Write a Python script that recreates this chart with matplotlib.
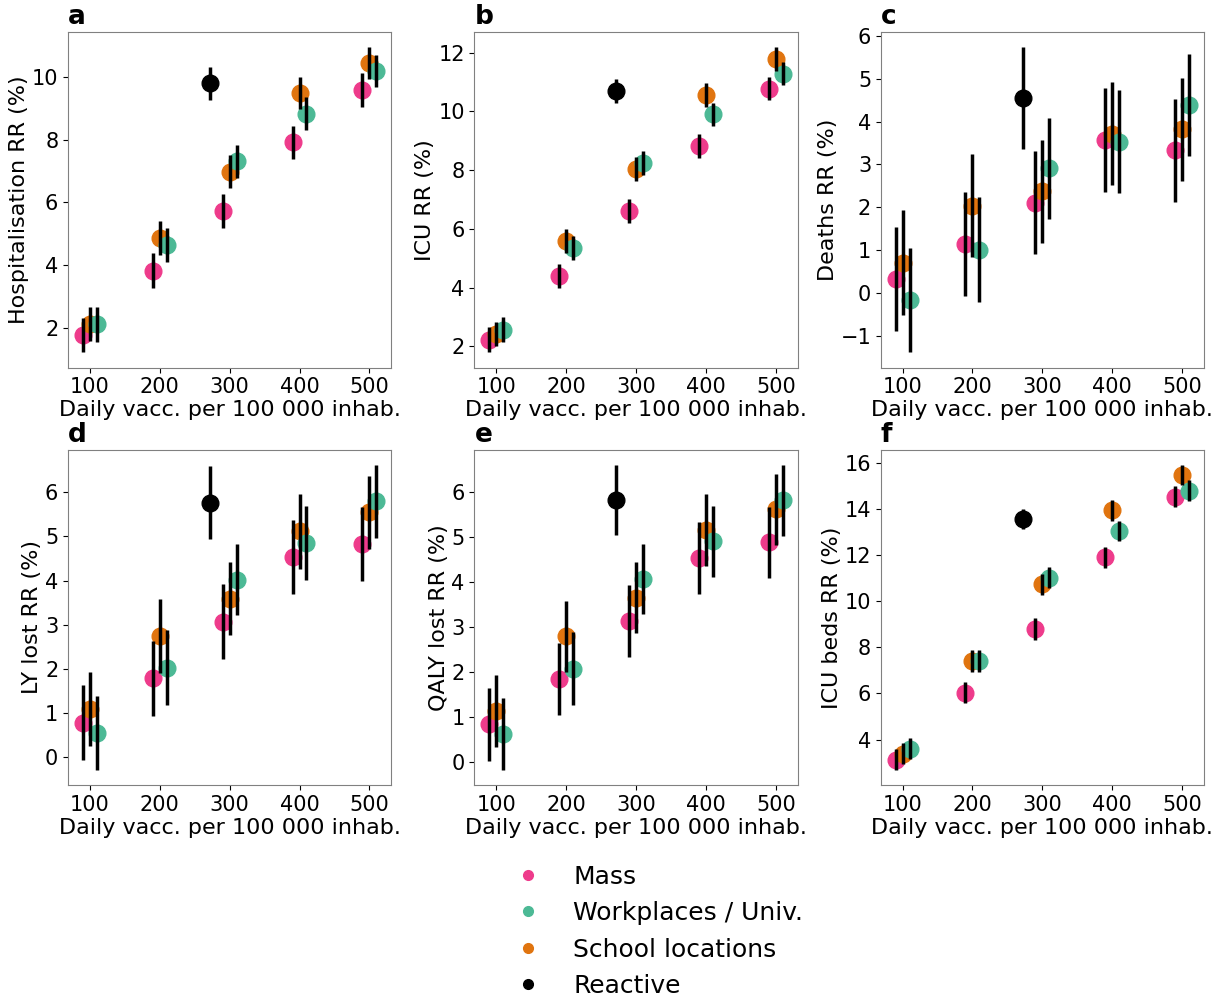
import matplotlib
matplotlib.use("Agg")
import matplotlib.pyplot as plt
from matplotlib.lines import Line2D
from matplotlib.ticker import MultipleLocator

# x positions (daily vaccinations per 100 000 inhabitants)
doses = [100, 200, 300, 400, 500]
reactive_x = 272
offsets = {'Mass': -10, 'School locations': 0, 'Workplaces / Univ.': 10}

colors = {
    'Mass': '#ee3b8b',
    'Workplaces / Univ.': '#4cb995',
    'School locations': '#e0740f',
    'Reactive': '#000000',
}

# panel a - hospitalisation RR (%)
hosp_mass = [1.78, 3.83, 5.73, 7.91, 9.58]
hosp_mass_err = [0.55, 0.56, 0.55, 0.52, 0.53]
hosp_school = [2.13, 4.86, 6.98, 9.47, 10.43]
hosp_school_err = [0.54, 0.54, 0.53, 0.51, 0.51]
hosp_work = [2.12, 4.64, 7.31, 8.83, 10.18]
hosp_work_err = [0.55, 0.54, 0.53, 0.52, 0.52]
hosp_reactive = 9.79
hosp_reactive_err = 0.53

# panel b - ICU RR (%)
icu_mass = [2.22, 4.39, 6.61, 8.83, 10.78]
icu_mass_err = [0.43, 0.42, 0.42, 0.40, 0.40]
icu_school = [2.42, 5.58, 8.04, 10.57, 11.79]
icu_school_err = [0.41, 0.40, 0.41, 0.41, 0.40]
icu_work = [2.56, 5.36, 8.24, 9.90, 11.29]
icu_work_err = [0.42, 0.41, 0.40, 0.40, 0.40]
icu_reactive = 10.70
icu_reactive_err = 0.40

# panel c - deaths RR (%)
deaths_mass = [0.33, 1.14, 2.11, 3.57, 3.33]
deaths_mass_err = [1.22, 1.21, 1.20, 1.21, 1.20]
deaths_school = [0.71, 2.04, 2.37, 3.72, 3.82]
deaths_school_err = [1.22, 1.20, 1.20, 1.21, 1.20]
deaths_work = [-0.17, 1.01, 2.91, 3.53, 4.40]
deaths_work_err = [1.22, 1.22, 1.18, 1.20, 1.19]
deaths_reactive = 4.55
deaths_reactive_err = 1.19

# panel d - LY lost RR (%)
ly_mass = [0.78, 1.79, 3.07, 4.53, 4.83]
ly_mass_err = [0.85, 0.85, 0.84, 0.84, 0.83]
ly_school = [1.09, 2.75, 3.59, 5.11, 5.54]
ly_school_err = [0.83, 0.84, 0.82, 0.84, 0.83]
ly_work = [0.55, 2.02, 4.02, 4.85, 5.79]
ly_work_err = [0.84, 0.85, 0.81, 0.83, 0.83]
ly_reactive = 5.76
ly_reactive_err = 0.83

# panel e - QALY lost RR (%)
qaly_mass = [0.83, 1.84, 3.13, 4.54, 4.88]
qaly_mass_err = [0.81, 0.81, 0.80, 0.80, 0.79]
qaly_school = [1.12, 2.79, 3.65, 5.15, 5.61]
qaly_school_err = [0.80, 0.79, 0.79, 0.80, 0.79]
qaly_work = [0.62, 2.07, 4.06, 4.90, 5.81]
qaly_work_err = [0.80, 0.81, 0.78, 0.79, 0.79]
qaly_reactive = 5.81
qaly_reactive_err = 0.78

# panel f - ICU beds RR (%)
beds_mass = [3.13, 6.04, 8.80, 11.91, 14.55]
beds_mass_err = [0.45, 0.47, 0.47, 0.46, 0.45]
beds_school = [3.39, 7.41, 10.74, 13.96, 15.49]
beds_school_err = [0.45, 0.46, 0.45, 0.45, 0.44]
beds_work = [3.61, 7.41, 11.03, 13.06, 14.80]
beds_work_err = [0.47, 0.46, 0.45, 0.45, 0.46]
beds_reactive = 13.57
beds_reactive_err = 0.44

panels = [
    ('a', 'Hospitalisation RR (%)', 2, hosp_mass, hosp_mass_err, hosp_school, hosp_school_err,
     hosp_work, hosp_work_err, hosp_reactive, hosp_reactive_err),
    ('b', 'ICU RR (%)', 2, icu_mass, icu_mass_err, icu_school, icu_school_err,
     icu_work, icu_work_err, icu_reactive, icu_reactive_err),
    ('c', 'Deaths RR (%)', 1, deaths_mass, deaths_mass_err, deaths_school, deaths_school_err,
     deaths_work, deaths_work_err, deaths_reactive, deaths_reactive_err),
    ('d', 'LY lost RR (%)', 1, ly_mass, ly_mass_err, ly_school, ly_school_err,
     ly_work, ly_work_err, ly_reactive, ly_reactive_err),
    ('e', 'QALY lost RR (%)', 1, qaly_mass, qaly_mass_err, qaly_school, qaly_school_err,
     qaly_work, qaly_work_err, qaly_reactive, qaly_reactive_err),
    ('f', 'ICU beds RR (%)', 2, beds_mass, beds_mass_err, beds_school, beds_school_err,
     beds_work, beds_work_err, beds_reactive, beds_reactive_err),
]

fs = 16
ms = 12

fig, axes = plt.subplots(2, 3, figsize=(12.26, 9.99), dpi=100)
fig.subplots_adjust(left=0.0555, right=0.982, top=0.968, bottom=0.214,
                    wspace=0.258, hspace=0.244)

for ax, (letter, ylabel, step, m, me, s, se, w, we, r, re) in zip(axes.flat, panels):
    for name, vals, errs in [('Mass', m, me), ('School locations', s, se),
                             ('Workplaces / Univ.', w, we)]:
        xs = [d + offsets[name] for d in doses]
        ax.plot(xs, vals, 'o', color=colors[name], markersize=ms, zorder=2)
        ax.errorbar(xs, vals, yerr=errs, fmt='none', ecolor='black',
                    elinewidth=2.5, capsize=0, zorder=3)
    ax.errorbar([reactive_x], [r], yerr=[re], fmt='o', color='black',
                markersize=ms, elinewidth=2.5, capsize=0, zorder=3)
    ax.set_xticks(doses)
    ax.yaxis.set_major_locator(MultipleLocator(step))
    ax.set_xlabel('Daily vacc. per 100 000 inhab.', fontsize=fs, labelpad=2)
    ax.set_ylabel(ylabel, fontsize=fs, labelpad=2)
    ax.tick_params(labelsize=fs - 1)
    for sp in ax.spines.values():
        sp.set_color('#808080')
    ax.text(0.0, 1.005, letter, transform=ax.transAxes, fontsize=fs + 3,
            fontweight='bold', ha='left', va='bottom')

labels = ['Mass', 'Workplaces / Univ.', 'School locations', 'Reactive']
handles = [Line2D([], [], marker='o', linestyle='none', color=colors[k], markersize=7)
           for k in labels]
fig.legend(handles, labels, loc='upper left', bbox_to_anchor=(0.392, 0.157),
           frameon=False, fontsize=fs + 2, handletextpad=0.8, labelspacing=0.5)

fig.savefig('out.png', dpi=100)
